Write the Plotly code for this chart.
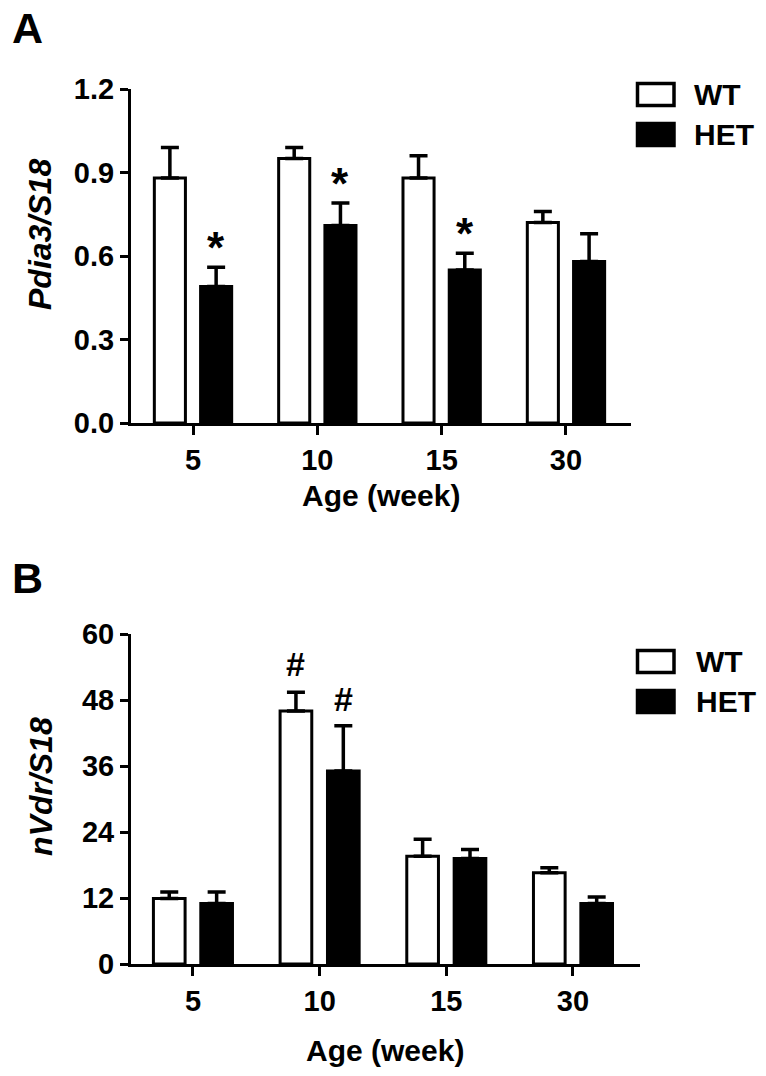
import plotly.graph_objects as go

# ---------------- data ----------------
categories = ["5", "10", "15", "30"]
groups = ["WT", "HET"]

pdia3_wt = [0.88, 0.95, 0.88, 0.72]
pdia3_wt_err = [0.11, 0.04, 0.08, 0.04]
pdia3_het = [0.49, 0.71, 0.55, 0.58]
pdia3_het_err = [0.07, 0.08, 0.06, 0.10]
pdia3_het_marks = ["*", "*", "*", ""]

nvdr_wt = [11.9, 46.0, 19.6, 16.6]
nvdr_wt_err = [1.2, 3.4, 3.1, 0.9]
nvdr_het = [11.0, 35.1, 19.2, 11.0]
nvdr_het_err = [2.1, 8.2, 1.6, 1.2]
nvdr_wt_marks = ["", "#", "", ""]
nvdr_het_marks = ["", "#", "", ""]

pdia3_ticks = [0.0, 0.3, 0.6, 0.9, 1.2]
nvdr_ticks = [0, 12, 24, 36, 48, 60]

# ---------------- layout helpers ----------------
# page has an 8px body margin; size the figure so it fits the window exactly
PAD = 8
W, H = 766 - 2 * PAD, 1076 - 2 * PAD
FONT = "Liberation Sans"


def px(x):
    return (x - PAD) / W


def py(y):
    return 1 - (y - PAD) / H


xpos = list(range(len(categories)))
BW = 0.25

fig = go.Figure()


def add_panel(xa, ya, wt, wterr, het, heterr, off):
    fig.add_trace(go.Bar(
        x=xpos, y=wt, width=BW, offset=-off - BW / 2,
        marker=dict(color="white", line=dict(color="black", width=3)),
        error_y=dict(type="data", symmetric=False, array=wterr,
                     arrayminus=[0] * len(wt), color="black",
                     thickness=3.5, width=9),
        xaxis=xa, yaxis=ya, showlegend=False, name=groups[0]))
    fig.add_trace(go.Bar(
        x=xpos, y=het, width=BW, offset=off - BW / 2,
        marker=dict(color="black", line=dict(color="black", width=3)),
        error_y=dict(type="data", symmetric=False, array=heterr,
                     arrayminus=[0] * len(het), color="black",
                     thickness=3.5, width=9),
        xaxis=xa, yaxis=ya, showlegend=False, name=groups[1]))


add_panel("x", "y", pdia3_wt, pdia3_wt_err, pdia3_het, pdia3_het_err, 0.186)
add_panel("x2", "y2", nvdr_wt, nvdr_wt_err, nvdr_het, nvdr_het_err, 0.187)

tickfont = dict(family=FONT, size=29, color="black", weight="bold")
common_x = dict(showline=True, linecolor="black", linewidth=3,
                ticks="outside", ticklen=9, tickwidth=3, tickcolor="black",
                showgrid=False, zeroline=False, tickfont=tickfont,
                tickvals=xpos, ticktext=categories, fixedrange=True,
                automargin=False)
common_y = dict(showline=True, linecolor="black", linewidth=3,
                ticks="outside", ticklen=8, tickwidth=3, tickcolor="black",
                showgrid=False, zeroline=False, tickfont=tickfont,
                fixedrange=True, automargin=False)

fig.update_layout(
    template="none",
    width=W, height=H,
    margin=dict(l=0, r=0, t=0, b=0, pad=0, autoexpand=False),
    paper_bgcolor="white", plot_bgcolor="white",
    barmode="overlay",
    xaxis=dict(domain=[px(131), px(631)], range=[-0.4987, 3.523],
               anchor="y", **common_x),
    yaxis=dict(domain=[py(423), py(89)], range=[0, 1.2], anchor="x",
               tickvals=pdia3_ticks,
               ticktext=[f"{v:.1f}" for v in pdia3_ticks], **common_y),
    xaxis2=dict(domain=[px(131), px(640)], range=[-0.489, 3.529],
                anchor="y2", **common_x),
    yaxis2=dict(domain=[py(964), py(634)], range=[0, 60], anchor="x2",
                tickvals=nvdr_ticks,
                ticktext=[str(v) for v in nvdr_ticks], **common_y),
)

ann = []


def txt(x, y, s, size, italic=False, angle=0, xanchor="center"):
    ann.append(dict(x=px(x), y=py(y), xref="paper", yref="paper", text=s,
                    showarrow=False, textangle=angle, xanchor=xanchor,
                    yanchor="middle",
                    font=dict(family=FONT, size=size, color="black",
                              weight="bold",
                              style="italic" if italic else "normal")))


# panel letters
txt(10, 28, "A", 43, xanchor="left")
txt(10, 578, "B", 43, xanchor="left")
# axis titles
txt(40, 235, "Pdia3/S18", 32, italic=True, angle=-90)
txt(381, 495, "Age (week)", 30)
txt(41, 787, "nVdr/S18", 32, italic=True, angle=-90)
txt(385, 1050, "Age (week)", 30)


# significance marks
def marks(xa, ya, vals, errs, labels, off, size, shift):
    for i, (v, e, m) in enumerate(zip(vals, errs, labels)):
        if m:
            ann.append(dict(x=xpos[i] + off, y=v + e, xref=xa, yref=ya,
                            text=m, showarrow=False, yanchor="middle",
                            yshift=shift,
                            font=dict(family=FONT, size=size, color="black",
                                      weight="bold")))


marks("x", "y", pdia3_het, pdia3_het_err, pdia3_het_marks, 0.186, 44, 20)
marks("x2", "y2", nvdr_wt, nvdr_wt_err, nvdr_wt_marks, -0.187, 34, 28)
marks("x2", "y2", nvdr_het, nvdr_het_err, nvdr_het_marks, 0.187, 34, 27)

# legends (drawn manually)
shapes = []


def legend(text_x, centers):
    for (g, fill), yc in zip([(groups[0], "white"), (groups[1], "black")],
                             centers):
        shapes.append(dict(type="rect", xref="paper", yref="paper",
                           x0=px(637.5), x1=px(674), y0=py(yc + 11),
                           y1=py(yc - 11), fillcolor=fill,
                           line=dict(color="black", width=3.5)))
        txt(text_x, yc, g, 30, xanchor="left")


legend(692, [94.5, 134.5])
legend(694, [661.5, 701.5])

fig.update_layout(annotations=ann, shapes=shapes)
fig.write_html("out.html")
